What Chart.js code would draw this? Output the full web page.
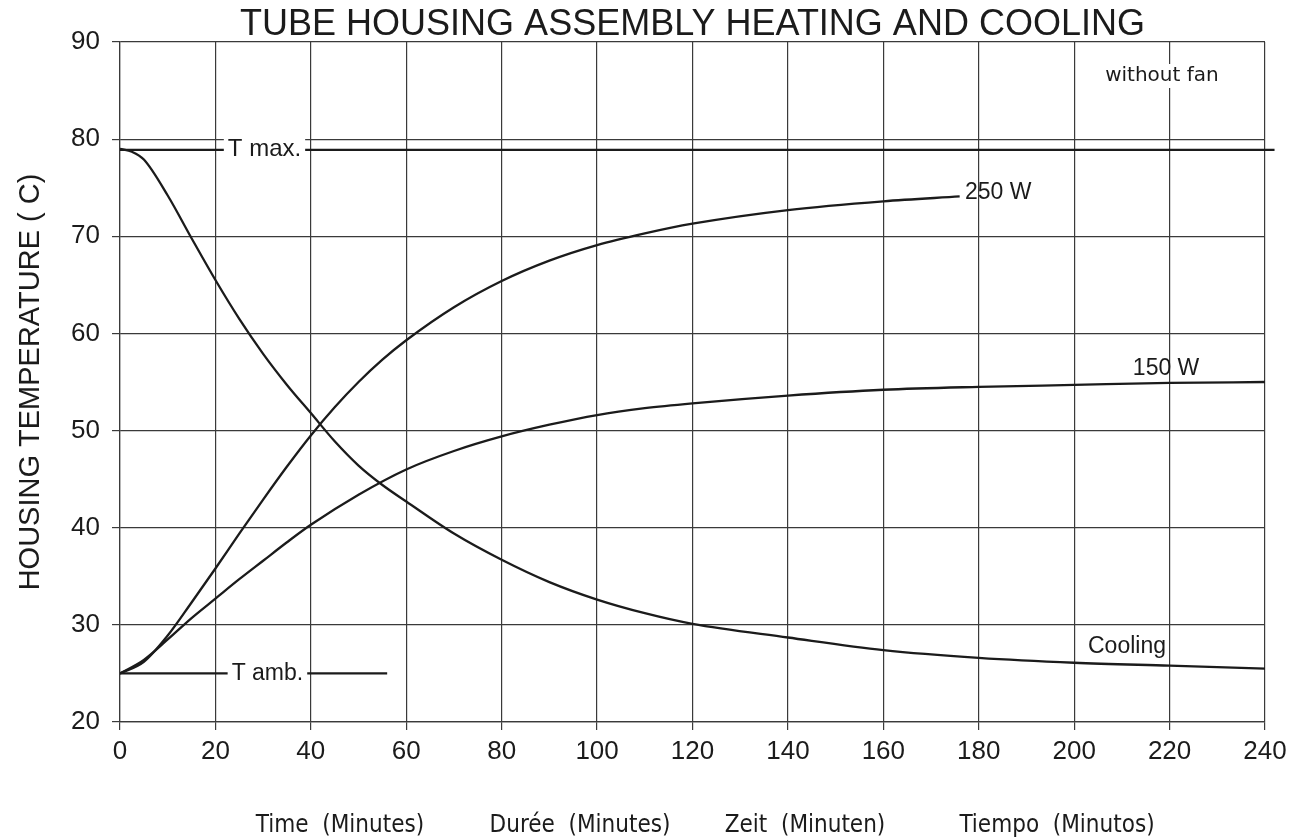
<!DOCTYPE html>
<html>
<head>
<meta charset="utf-8">
<script src="https://cdn.jsdelivr.net/npm/chart.js@4/dist/chart.umd.min.js"></script>
<style>
html,body{margin:0;padding:0;background:#fff;}
canvas{display:block;}
</style>
</head>
<body>
<canvas id="c" width="1301" height="837"></canvas>
<script>
// ---------- data ----------
const coolingMinutes = [0, 2.5, 5, 10, 15, 20, 25, 30, 35, 40, 45, 50, 55, 60, 70, 80, 90, 100, 110, 120, 140, 160, 180, 200, 220, 240];
const coolingTemp    = [79.0, 78.7, 77.9, 74.2, 69.8, 65.5, 61.5, 57.9, 54.7, 51.8, 48.9, 46.4, 44.4, 42.7, 39.4, 36.7, 34.4, 32.6, 31.2, 30.1, 28.7, 27.4, 26.6, 26.1, 25.8, 25.5];

const w250Minutes = [0, 5, 10, 15, 20, 25, 30, 35, 40, 45, 50, 55, 60, 70, 80, 90, 100, 110, 120, 140, 160, 176];
const w250Temp    = [25.0, 26.2, 28.9, 32.3, 35.8, 39.4, 42.9, 46.3, 49.5, 52.4, 55.0, 57.3, 59.3, 62.7, 65.4, 67.5, 69.1, 70.3, 71.3, 72.7, 73.6, 74.1];

const w150Minutes = [0, 5, 10, 15, 20, 25, 30, 35, 40, 50, 60, 70, 80, 90, 100, 110, 120, 140, 160, 180, 200, 220, 240];
const w150Temp    = [25.0, 26.4, 28.5, 30.7, 32.7, 34.7, 36.6, 38.5, 40.3, 43.4, 46.0, 47.9, 49.4, 50.6, 51.6, 52.3, 52.8, 53.6, 54.2, 54.5, 54.7, 54.9, 55.0];

const tMaxMinutes = [0, 242];
const tMaxTemp    = [78.9, 78.9];
const tAmbMinutes = [0, 56];
const tAmbTemp    = [25, 25];

const xTickMin = 0, xTickMax = 240, xTickStep = 20;
const yTickMin = 20, yTickMax = 90, yTickStep = 10;

const chartTitle = 'TUBE HOUSING ASSEMBLY HEATING AND COOLING';
const yAxisTitle = 'HOUSING TEMPERATURE ( C)';
const xAxisTitles = ['Time  (Minutes)', 'Durée  (Minutes)', 'Zeit  (Minuten)', 'Tiempo  (Minutos)'];
const curveLabels = ['T max.', 'T amb.', '250 W', '150 W', 'Cooling', 'without fan'];

// ---------- helpers ----------
const pts = (xs, ys) => xs.map((x, i) => ({x: x, y: ys[i]}));
const INK = '#1b1b1b';
const GRID = '#3a3a3a';
const ARIAL = "'Liberation Sans', Arial, Helvetica, sans-serif";

function lineDs(label, data, extra) {
  return Object.assign({
    label: label,
    data: data,
    borderColor: INK,
    borderWidth: 2.3,
    pointRadius: 0,
    pointHoverRadius: 0,
    fill: false,
    cubicInterpolationMode: 'monotone'
  }, extra || {});
}

// annotation placements (in data units)
const annotations = [
  {text: curveLabels[0], x: 22.6, y: tMaxTemp[0], font: '24px ' + ARIAL, box: true},
  {text: curveLabels[1], x: 23.4, y: tAmbTemp[0], font: '23px ' + ARIAL, box: true},
  {text: curveLabels[2], x: 177.1, y: 74.5, font: '23px ' + ARIAL, box: false},
  {text: curveLabels[3], x: 212.3, y: 56.4, font: '23px ' + ARIAL, box: false},
  {text: curveLabels[4], x: 202.9, y: 27.8, font: '23px ' + ARIAL, box: false},
  {text: curveLabels[5], x: 206.5, y: 86.5, font: "20px 'DejaVu Sans', sans-serif", box: true}
];

const annotationPlugin = {
  id: 'annotationText',
  afterDatasetsDraw(chart) {
    const ctx = chart.ctx;
    const xs = chart.scales.x, ys = chart.scales.y;
    ctx.save();
    annotations.forEach(a => {
      ctx.font = a.font;
      ctx.textAlign = 'left';
      ctx.textBaseline = 'middle';
      const px = xs.getPixelForValue(a.x);
      const py = ys.getPixelForValue(a.y);
      const w = ctx.measureText(a.text).width;
      if (a.box) {
        ctx.fillStyle = '#ffffff';
        ctx.fillRect(px - 4, py - 12, w + 8, 24);
      }
      ctx.fillStyle = INK;
      ctx.fillText(a.text, px, py);
    });
    ctx.restore();
  }
};

const textPlugin = {
  id: 'pageText',
  afterDraw(chart) {
    const ctx = chart.ctx;
    const area = chart.chartArea;
    ctx.save();
    ctx.fillStyle = INK;
    ctx.textBaseline = 'alphabetic';
    ctx.textAlign = 'center';
    ctx.font = '36px ' + ARIAL;
    ctx.fillText(chartTitle, (area.left + area.right) / 2, 35);

    ctx.font = "24px 'DejaVu Sans Condensed', 'DejaVu Sans', sans-serif";
    try { ctx.fontStretch = 'condensed'; } catch (e) {}
    const centers = [340, 580, 805, 1057];
    xAxisTitles.forEach((t, i) => ctx.fillText(t, centers[i], 832));
    ctx.restore();
  }
};

new Chart(document.getElementById('c'), {
  type: 'line',
  data: {
    datasets: [
      lineDs('T max', pts(tMaxMinutes, tMaxTemp), {cubicInterpolationMode: 'default', tension: 0, clip: false}),
      lineDs('T amb', pts(tAmbMinutes, tAmbTemp), {cubicInterpolationMode: 'default', tension: 0}),
      lineDs('250 W', pts(w250Minutes, w250Temp)),
      lineDs('150 W', pts(w150Minutes, w150Temp)),
      lineDs('Cooling', pts(coolingMinutes, coolingTemp))
    ]
  },
  options: {
    responsive: false,
    devicePixelRatio: 1,
    animation: false,
    layout: {padding: {left: 0, top: 42, right: 36, bottom: 0}},
    plugins: {
      legend: {display: false},
      title: {display: false},
      tooltip: {enabled: false}
    },
    scales: {
      x: {
        type: 'linear',
        min: xTickMin, max: xTickMax,
        ticks: {stepSize: xTickStep, padding: 6, color: INK, font: {family: ARIAL, size: 26}, maxRotation: 0},
        grid: {color: GRID, lineWidth: 1.2, tickLength: 8, tickColor: GRID, drawTicks: true},
        border: {color: GRID, width: 1.2},
        afterFit(scale) { scale.height = 115; }
      },
      y: {
        type: 'linear',
        min: yTickMin, max: yTickMax,
        ticks: {stepSize: yTickStep, padding: 12, color: INK, font: {family: ARIAL, size: 26}},
        grid: {color: GRID, lineWidth: 1.2, tickLength: 8, tickColor: GRID, drawTicks: true},
        border: {color: GRID, width: 1.2},
        title: {display: true, text: yAxisTitle, color: INK, font: {family: ARIAL, size: 29}, padding: {top: 14, bottom: 0}},
        afterFit(scale) { scale.width = 120; }
      }
    }
  },
  plugins: [annotationPlugin, textPlugin]
});
</script>
</body>
</html>
